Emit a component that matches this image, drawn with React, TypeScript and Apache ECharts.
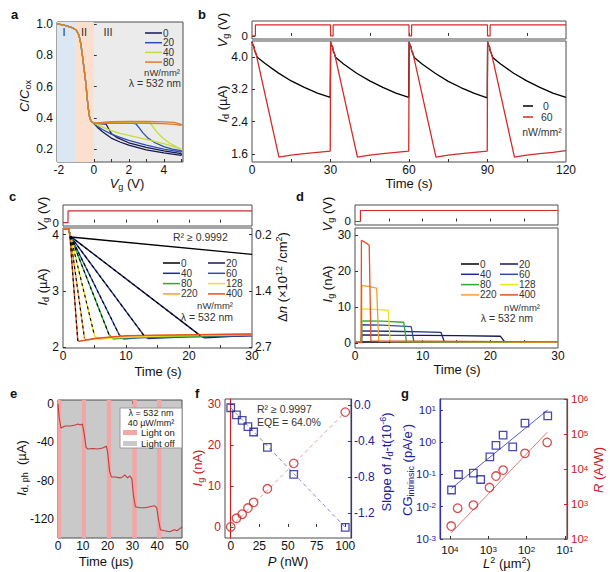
import { useEffect, useRef } from 'react';
import * as echarts from 'echarts';

const FONT = '"Liberation Sans", Arial, Helvetica, sans-serif';

/* ---------- a: C/Cox versus gate voltage ---------- */
const aIntensities = ['0', '20', '40', '80'];
const aColors = ['#16184f', '#2b4fae', '#c4dc3a', '#e07b2c'];
const aRegions = [[-2.1, -1.05], [-1.05, 0], [0, 5.1]];
const aRegionNames = ['I', 'II', 'III'];
const aDepletion = [
  [-2.1, 1.0], [-2, 1.0], [-1.6, 0.99], [-1.2, 0.975], [-1.0, 0.96], [-0.85, 0.93], [-0.75, 0.88],
  [-0.65, 0.8], [-0.55, 0.71], [-0.45, 0.62], [-0.38, 0.53], [-0.3, 0.45], [-0.23, 0.4],
  [-0.15, 0.38], [-0.05, 0.37], [0, 0.365],
];
const aSweep0 = [
  [0.3, 0.363], [0.7, 0.36], [0.85, 0.33], [1.0, 0.3], [1.3, 0.275], [2, 0.24], [3, 0.21], [4, 0.188], [5, 0.17],
  [5, 0.16], [4, 0.175], [3, 0.195], [2, 0.225], [1.5, 0.245], [1, 0.27], [0.5, 0.31], [0.2, 0.34], [0, 0.365],
];
const aSweep20 = [
  [1, 0.366], [2, 0.366], [2.4, 0.362], [2.6, 0.335], [2.8, 0.305], [3.1, 0.27], [3.5, 0.24], [4, 0.215], [4.5, 0.2], [5, 0.19],
  [5, 0.18], [4, 0.2], [3, 0.225], [2, 0.255], [1.5, 0.275], [1, 0.295], [0.5, 0.325], [0.2, 0.345], [0, 0.365],
];
const aSweep40 = [
  [1.5, 0.372], [3.2, 0.37], [3.4, 0.34], [3.6, 0.31], [3.9, 0.275], [4.3, 0.24], [4.7, 0.215], [5, 0.2],
  [5, 0.197], [4, 0.235], [3, 0.262], [2, 0.288], [1.5, 0.3], [1, 0.318], [0.5, 0.34], [0, 0.366],
];
const aSweep80 = [
  [1, 0.375], [2, 0.377], [3, 0.377], [4, 0.374], [4.6, 0.37], [5, 0.358],
  [5, 0.352], [4.6, 0.358], [4, 0.362], [3, 0.365], [2, 0.366], [1, 0.366], [0, 0.365],
];
const aSweeps = [aSweep0, aSweep20, aSweep40, aSweep80];

/* ---------- b: pulsed drain current ---------- */
const bIntensities = ['0', '60'];
const bColors = ['#000000', '#d42a2a'];
const bGate = [
  [0, 0], [1.3, 0], [1.3, 5], [30, 5], [30, 0], [31, 0], [31, 5], [60, 5], [60, 0], [61, 0], [61, 5],
  [90, 5], [90, 0], [91, 0], [91, 5], [120, 5],
];
const bDark = [
  [0, 4.38], [0.3, 4.31], [0.8, 4.25], [1.0, 4.16], [1.4, 4.1], [2, 4.0], [5, 3.84], [10, 3.61], [15, 3.41], [20, 3.25], [25, 3.11], [29.9, 3.0],
  [30.05, 4.38], [30.3, 4.31], [30.8, 4.25], [31, 4.16], [31.4, 4.1], [32, 3.99], [35, 3.83], [40, 3.6], [45, 3.41], [50, 3.25], [55, 3.11], [59.9, 3.0],
  [60.05, 4.38], [60.3, 4.31], [60.8, 4.25], [61, 4.16], [61.4, 4.1], [62, 3.99], [65, 3.83], [70, 3.6], [75, 3.4], [80, 3.24], [85, 3.1], [89.9, 2.99],
  [90.05, 4.38], [90.3, 4.31], [90.8, 4.25], [91, 4.16], [91.4, 4.1], [92, 3.99], [95, 3.83], [100, 3.6], [105, 3.41], [110, 3.25], [115, 3.11], [120, 3.0],
];
const bLight = [
  [0, 4.38], [0.3, 4.31], [0.8, 4.25], [1.0, 4.16], [1.5, 4.1], [10.3, 1.52], [12, 1.54], [15, 1.57], [20, 1.61], [25, 1.64], [29.9, 1.67],
  [30.05, 4.38], [30.3, 4.31], [30.8, 4.25], [31, 4.16], [31.5, 4.1], [40.3, 1.52], [42, 1.54], [45, 1.57], [50, 1.61], [55, 1.64], [59.9, 1.67],
  [60.05, 4.38], [60.3, 4.31], [60.8, 4.25], [61, 4.16], [61.5, 4.1], [70.3, 1.52], [72, 1.54], [75, 1.57], [80, 1.61], [85, 1.64], [89.9, 1.67],
  [90.05, 4.38], [90.3, 4.31], [90.8, 4.25], [91, 4.16], [91.5, 4.1], [100.3, 1.52], [102, 1.54], [105, 1.57], [110, 1.61], [115, 1.64], [120, 1.68],
];

/* ---------- c, d: drain and gate current under illumination ---------- */
const cdIntensities = ['0', '20', '40', '60', '80', '128', '220', '400'];
const cdColors = ['#000000', '#17195a', '#1e2d86', '#2a4fae', '#2fa83a', '#ece21e', '#f2a229', '#e4521e'];
const cdGate = [[0, 0], [0.8, 0], [0.8, 5], [30, 5]];
// each drain trace: dark level, turn-on, linear discharge (points 2..3), recovery
const cDrain = [
  [[0, 4.1], [0.9, 4.1], [1.2, 3.96], [30, 3.65]],
  [[0, 4.1], [0.9, 4.1], [1.2, 3.97], [21.8, 2.2], [22.5, 2.16], [24, 2.17], [27, 2.19], [30, 2.2]],
  [[0, 4.1], [0.9, 4.1], [1.2, 3.97], [12.8, 2.21], [13.5, 2.15], [16, 2.16], [20, 2.18], [25, 2.19], [30, 2.2]],
  [[0, 4.1], [0.9, 4.1], [1.2, 3.97], [8.9, 2.22], [9.6, 2.14], [12, 2.16], [18, 2.18], [30, 2.2]],
  [[0, 4.1], [0.9, 4.1], [1.2, 3.97], [7.3, 2.22], [8, 2.14], [10, 2.16], [16, 2.18], [30, 2.21]],
  [[0, 4.1], [0.9, 4.1], [1.2, 3.97], [5.0, 2.2], [5.6, 2.13], [8, 2.16], [14, 2.19], [30, 2.22]],
  [[0, 4.1], [0.9, 4.1], [1.15, 3.97], [3.4, 2.16], [3.8, 2.12], [6, 2.16], [12, 2.2], [30, 2.23]],
  [[0, 4.1], [0.9, 4.1], [1.1, 3.97], [2.35, 2.11], [2.6, 2.1], [5, 2.15], [10, 2.2], [30, 2.23]],
];
const cFitRSquared = 'R² ≥ 0.9992';
const cRightTicks = [4, 3, 2];
const cRightLabels = ['0.2', '1.4', '2.7'];
const dGateCurrent = [
  [[0, 0.25], [0.9, 0.25], [1.0, 0.35], [30, 0.3]],
  [[0, 0.2], [0.95, 0.2], [1.0, 2.3], [5, 2.2], [15, 2.1], [21.5, 1.9], [22.1, 0.4], [30, 0.3]],
  [[0, 0.2], [0.95, 0.2], [1.0, 3.4], [5, 3.3], [10, 3.15], [12.7, 3.0], [13.2, 0.4], [30, 0.3]],
  [[0, 0.2], [0.95, 0.2], [1.0, 5.1], [4, 5.0], [8.3, 4.6], [8.7, 0.4], [30, 0.3]],
  [[0, 0.2], [0.95, 0.2], [1.0, 6.2], [4, 6.1], [7.2, 5.8], [7.6, 0.4], [30, 0.3]],
  [[0, 0.2], [0.95, 0.2], [1.0, 9.5], [3, 9.4], [4.9, 9.1], [5.2, 0.4], [30, 0.3]],
  [[0, 0.2], [0.95, 0.2], [1.0, 16.0], [2, 15.8], [3.2, 15.3], [3.5, 0.5], [30, 0.35]],
  [[0, 0.2], [0.9, 0.2], [0.95, 28.6], [1.5, 28.0], [2.1, 27.2], [2.35, 0.6], [30, 0.35]],
];

/* ---------- e: photocurrent steps ---------- */
const eLightOn = [[0, 1.3], [9.6, 11.3], [19.7, 21.4], [30, 31.8], [39.9, 41.7]];
const ePhotocurrent = [
  [0, 0], [0.5, -15], [1.2, -25], [2, -24], [3, -23], [5, -23], [7, -22], [8, -21], [9, -22], [9.8, -21],
  [10.5, -30], [11.3, -45], [12, -47], [14, -46.5], [16, -47], [18, -46], [19.5, -44],
  [20, -50], [20.8, -70], [21.5, -76], [23, -76], [25, -77], [26, -76], [27, -74], [28, -77], [29, -75], [29.8, -78],
  [30.4, -95], [31.2, -107], [33, -108], [35, -108], [37, -107], [39, -106], [39.8, -108],
  [40.5, -120], [41.3, -131], [43, -132], [45, -133], [47, -131], [48, -132], [49, -130], [50, -128],
];
const eLegendLines = ['λ = 532 nm', '40 µW/mm²', 'Light on', 'Light off'];

/* ---------- f: gate current and discharge slope versus power ---------- */
const fPower = [0, 5, 10, 15, 20, 32, 55, 100];
const fGateCurrent = [0, 2.1, 3.1, 4.6, 6.0, 9.3, 15.5, 28.0];
const fSlope = [-0.03, -0.11, -0.17, -0.24, -0.3, -0.47, -0.77, -1.36];
const fGateFit = [[0, 0], [100, 28]];
const fSlopeFit = [[0, -0.03], [100, -1.36]];
const fNotes = ['R² ≥ 0.9997', 'EQE = 64.0%'];

/* ---------- g: gain and responsivity versus channel area ---------- */
const gAreaCG = [9100, 6000, 2450, 1580, 910, 630, 410, 230, 110, 28];
const gCG = [0.033, 0.1, 0.11, 0.07, 0.35, 0.8, 1.65, 0.72, 3.9, 6.6];
const gAreaR = [9300, 6300, 2450, 930, 630, 410, 110, 29];
const gR = [235, 760, 930, 2950, 6300, 9300, 28000, 57500];
const gCGFit = [[9100, 0.037], [28, 10]];
const gRFit = [[9300, 150], [29, 112000]];

const pairs = (xs: number[], ys: number[]) => xs.map((x, i) => [x, ys[i]]);

const RICH: any = {
  r: { fontFamily: FONT, fontSize: 13, lineHeight: 16 },
  i: { fontFamily: FONT, fontSize: 13, lineHeight: 16, fontStyle: 'italic' },
  sub: { fontFamily: FONT, fontSize: 9, lineHeight: 8, verticalAlign: 'bottom' },
  sup: { fontFamily: FONT, fontSize: 9, lineHeight: 8, verticalAlign: 'top' },
  s: { fontFamily: FONT, fontSize: 8, lineHeight: 6, verticalAlign: 'top' },
  n: { fontFamily: FONT, fontSize: 11.5, lineHeight: 10 },
};

const FRAME = '#4d4d4d';

function grid(left: number, top: number, width: number, height: number, bg?: string) {
  return {
    left, top, width, height, show: true, borderColor: FRAME, borderWidth: 1,
    backgroundColor: bg || 'transparent', containLabel: false, outerBoundsMode: 'none',
  };
}

function axis(gridIndex: number, o: any) {
  return {
    type: o.type || 'value',
    logBase: 10,
    gridIndex,
    min: o.min,
    max: o.max,
    inverse: !!o.inverse,
    position: o.position,
    splitLine: { show: false },
    axisLine: o.lineColor ? { show: true, lineStyle: { color: o.lineColor, width: 1.2 } } : { show: false },
    axisTick: {
      show: true, inside: true, length: 3,
      customValues: o.ticks,
      lineStyle: { color: o.lineColor || '#333', width: 1 },
    },
    axisLabel: o.labels
      ? {
          show: true, customValues: o.labels, formatter: o.fmt, margin: o.margin ?? 3,
          fontFamily: FONT, fontSize: o.fontSize || 12, lineHeight: 10, color: o.color || '#111', rich: RICH,
          showMinLabel: true, showMaxLabel: true, hideOverlap: false,
        }
      : { show: false },
  };
}

function line(xi: number, yi: number, data: any, color: string, width = 1.2, extra: any = {}) {
  return {
    type: 'line', xAxisIndex: xi, yAxisIndex: yi, data, symbol: 'none', showSymbol: false,
    lineStyle: { color, width }, itemStyle: { color }, silent: true, clip: true, z: 3, ...extra,
  };
}

function txt(x: number, y: number, text: string, o: any = {}) {
  return {
    type: 'text', x, y, rotation: o.rot || 0, z: 100, silent: true,
    style: {
      text, fontFamily: FONT, fontSize: o.size || 12, fontWeight: o.bold ? 'bold' : 'normal',
      fontStyle: o.italic ? 'italic' : 'normal', fill: o.color || '#111',
      align: o.align || 'center', verticalAlign: 'middle', rich: o.rich, lineHeight: o.lh,
    },
  };
}

function seg(x1: number, y1: number, x2: number, y2: number, color: string, width = 1.5) {
  return { type: 'line', z: 100, silent: true, shape: { x1, y1, x2, y2 }, style: { stroke: color, lineWidth: width } };
}

function box(x: number, y: number, width: number, height: number, fill: string, stroke?: string) {
  return { type: 'rect', z: 99, silent: true, shape: { x, y, width, height }, style: { fill, stroke: stroke || 'none', lineWidth: 1 } };
}

const vTitle = (x: number, y: number, text: string, color = '#111') =>
  txt(x, y, text, { rot: Math.PI / 2, rich: RICH, color, size: 13 });
const hTitle = (x: number, y: number, text: string, color = '#111') =>
  txt(x, y, text, { rich: RICH, color, size: 13 });

const logLabel = (v: number) => `{n|10}{s|${Math.round(Math.log10(v))}}`;

const small = { size: 10, color: '#333', lh: 9 };

function twoColumnLegend(x1: number, x2: number, y0: number, dy: number, len: number) {
  const out: any[] = [];
  cdIntensities.forEach((name, i) => {
    const col = i % 2;
    const row = Math.floor(i / 2);
    const lx = col === 0 ? x1 : x2;
    const y = y0 + row * dy;
    out.push(seg(lx, y, lx + len, y, cdColors[i], 1.5));
    out.push(txt(lx + len + 1, y, name, { ...small, align: 'left' }));
  });
  return out;
}

function buildOption() {
  const grids = [
    grid(57, 22, 126, 140, '#ebebeb'), // a
    grid(252, 21, 314, 18), // b gate
    grid(252, 41, 314, 121), // b drain
    grid(63, 205, 189, 21), // c gate
    grid(63, 228, 189, 120), // c drain
    grid(355, 205, 203, 20), // d gate
    grid(355, 228, 203, 120), // d gate current
    grid(58, 400, 124, 138, '#c9c9c9'), // e
    grid(225, 399, 126, 139), // f
    grid(440, 399, 127, 140), // g
  ];

  const xAxes = [
    axis(0, { min: -2.1, max: 5.1, ticks: [-2, -1, 0, 1, 2, 3, 4, 5], labels: [-2, 0, 2, 4], margin: 3 }),
    axis(1, { min: 0, max: 120, ticks: [15, 30, 45, 60, 75, 90, 105] }),
    axis(2, { min: 0, max: 120, ticks: [15, 30, 45, 60, 75, 90, 105], labels: [0, 30, 60, 90, 120], margin: 3 }),
    axis(3, { min: 0, max: 30, ticks: [5, 10, 15, 20, 25] }),
    axis(4, { min: 0, max: 30, ticks: [5, 10, 15, 20, 25], labels: [0, 10, 20, 30], margin: 3 }),
    axis(5, { min: 0, max: 30, ticks: [5, 10, 15, 20, 25] }),
    axis(6, { min: 0, max: 30, ticks: [5, 10, 15, 20, 25], labels: [0, 10, 20, 30], margin: 3 }),
    axis(7, { min: 0, max: 50, ticks: [10, 20, 30, 40], labels: [0, 10, 20, 30, 40, 50], margin: 3 }),
    axis(8, { min: -5, max: 105, ticks: [0, 25, 50, 75, 100], labels: [0, 25, 50, 75, 100], margin: 3 }),
    // large channel areas on the left
    axis(9, {
      type: 'log', min: 8.8, max: 18200, inverse: true, ticks: [10, 100, 1000, 10000],
      labels: [10, 100, 1000, 10000], fmt: logLabel, margin: 6,
    }),
  ];

  const yAxes = [
    axis(0, { min: 0.117, max: 1.013, ticks: [0.2, 0.4, 0.6, 0.8, 1.0], labels: [0.2, 0.4, 0.6, 0.8, 1.0], fmt: (v: number) => v.toFixed(1), margin: 4 }),
    axis(1, { min: -1.4, max: 6.8, ticks: [0, 5], labels: [0, 5], margin: 4, fontSize: 11.5 }),
    axis(2, { min: 1.4, max: 4.4, ticks: [1.6, 2.4, 3.2, 4.0], labels: [1.6, 2.4, 3.2, 4.0], fmt: (v: number) => v.toFixed(1), margin: 4 }),
    axis(3, { min: -1.4, max: 7.5, ticks: [0, 5], labels: [0, 5], margin: 4, fontSize: 11.5 }),
    axis(4, { min: 1.98, max: 4.12, ticks: [2, 3, 4], labels: [2, 3, 4], margin: 4 }),
    axis(4, {
      min: 1.98, max: 4.12, position: 'right', ticks: cRightTicks, labels: cRightTicks, margin: 3,
      fmt: (v: number) => cRightLabels[cRightTicks.indexOf(Math.round(v))] ?? '',
    }),
    axis(5, { min: -1.6, max: 7.5, ticks: [0, 5], labels: [0, 5], margin: 4, fontSize: 11.5 }),
    axis(6, { min: -1.36, max: 32, ticks: [0, 10, 20, 30], labels: [0, 10, 20, 30], margin: 4 }),
    axis(7, { min: -139.5, max: 4, ticks: [0, -40, -80, -120], labels: [0, -40, -80, -120], margin: 4 }),
    axis(8, { min: -2.7, max: 31.2, ticks: [0, 10, 20, 30], labels: [0, 10, 20, 30], margin: 4, color: '#c8201e', lineColor: '#c8201e' }),
    axis(8, {
      min: -1.478, max: 0.067, position: 'right', ticks: [0, -0.4, -0.8, -1.2], labels: [0, -0.4, -0.8, -1.2],
      fmt: (v: number) => v.toFixed(1), margin: 3, color: '#22229a', lineColor: '#3030b0',
    }),
    axis(9, {
      type: 'log', min: 0.001, max: 21.9, ticks: [0.001, 0.01, 0.1, 1, 10], labels: [0.001, 0.01, 0.1, 1, 10],
      fmt: logLabel, margin: 4, color: '#22229a', lineColor: '#3030b0',
    }),
    axis(9, {
      type: 'log', min: 100, max: 1000000, position: 'right', ticks: [100, 1000, 10000, 100000, 1000000],
      labels: [100, 1000, 10000, 100000, 1000000], fmt: logLabel, margin: 4, color: '#c8201e', lineColor: '#c8201e',
    }),
  ];

  const series: any[] = [];

  // a — shaded sweep regions, then the C–V loops (highest intensity on top)
  series.push({
    type: 'line', xAxisIndex: 0, yAxisIndex: 0, data: [], silent: true, z: 1,
    markArea: {
      silent: true,
      data: [
        [{ xAxis: aRegions[0][0], itemStyle: { color: '#dbe7f3' } }, { xAxis: aRegions[0][1] }],
        [{ xAxis: aRegions[1][0], itemStyle: { color: '#fbe0d0' } }, { xAxis: aRegions[1][1] }],
      ],
    },
  });
  aIntensities.forEach((name, i) => {
    series.push(line(0, 0, [...aDepletion, ...aSweeps[i]], aColors[i], 1.3, { name: 'a' + name }));
  });

  // b
  series.push(line(1, 1, bGate, bColors[1], 1.2));
  series.push(line(2, 2, bDark, bColors[0], 1.3));
  series.push(line(2, 2, bLight, bColors[1], 1.3));

  // c
  series.push(line(3, 3, cdGate, '#d42a2a', 1.2));
  cDrain.forEach((d, i) => series.push(line(4, 4, d, cdColors[i], 1.4)));
  cDrain.forEach((d, i) => {
    if (i > 0) series.push(line(4, 4, d.slice(2, 4), '#000', 1.1, { lineStyle: { color: '#000', width: 1.1, type: [3, 3] } }));
  });

  // d
  series.push(line(5, 6, cdGate, '#d42a2a', 1.2));
  dGateCurrent.forEach((d, i) => series.push(line(6, 7, d, cdColors[i], 1.3)));

  // e
  series.push({
    type: 'line', xAxisIndex: 7, yAxisIndex: 8, data: [], silent: true, z: 1,
    markArea: {
      silent: true,
      itemStyle: { color: '#f3a6a6' },
      data: eLightOn.map(([a, b]) => [{ xAxis: a }, { xAxis: b }]),
    },
  });
  series.push(line(7, 8, ePhotocurrent, '#c23b3b', 1.1));

  // f
  series.push(line(8, 9, fGateFit, '#e09a9a', 1, { lineStyle: { color: '#e09a9a', width: 1, type: [4, 3] } }));
  series.push(line(8, 10, fSlopeFit, '#8a8ac6', 1, { lineStyle: { color: '#8a8ac6', width: 1, type: [4, 3] } }));
  series.push({
    type: 'scatter', xAxisIndex: 8, yAxisIndex: 9, data: pairs(fPower, fGateCurrent), symbol: 'circle', symbolSize: 8.5,
    itemStyle: { color: 'rgba(0,0,0,0)', borderColor: '#cc2222', borderWidth: 1.3 }, silent: true, z: 5,
  });
  series.push({
    type: 'scatter', xAxisIndex: 8, yAxisIndex: 10, data: pairs(fPower, fSlope), symbol: 'rect', symbolSize: 7.5,
    itemStyle: { color: 'rgba(0,0,0,0)', borderColor: '#1c1c9c', borderWidth: 1.3 }, silent: true, z: 5,
  });

  // g
  series.push(line(9, 11, gCGFit, '#5a5ad0', 1));
  series.push(line(9, 12, gRFit, '#d87a7a', 1));
  series.push({
    type: 'scatter', xAxisIndex: 9, yAxisIndex: 11, data: pairs(gAreaCG, gCG), symbol: 'rect', symbolSize: 7.5,
    itemStyle: { color: 'rgba(0,0,0,0)', borderColor: '#1c1c9c', borderWidth: 1.3 }, silent: true, z: 5,
  });
  series.push({
    type: 'scatter', xAxisIndex: 9, yAxisIndex: 12, data: pairs(gAreaR, gR), symbol: 'circle', symbolSize: 8.5,
    itemStyle: { color: 'rgba(0,0,0,0)', borderColor: '#cc2222', borderWidth: 1.3 }, silent: true, z: 5,
  });

  const graphic: any[] = [
    // panel letters
    txt(11, 14, 'a', { bold: true, size: 13, align: 'left' }),
    txt(198, 14, 'b', { bold: true, size: 13, align: 'left' }),
    txt(9, 196, 'c', { bold: true, size: 13, align: 'left' }),
    txt(296, 196, 'd', { bold: true, size: 13, align: 'left' }),
    txt(10, 393, 'e', { bold: true, size: 13, align: 'left' }),
    txt(195, 393, 'f', { bold: true, size: 13, align: 'left' }),
    txt(401, 393, 'g', { bold: true, size: 13, align: 'left' }),

    // a
    txt(64, 32, aRegionNames[0], { size: 11, color: '#333', lh: 10 }),
    txt(84, 32, aRegionNames[1], { size: 11, color: '#333', lh: 10 }),
    txt(108, 32, aRegionNames[2], { size: 11, color: '#333', lh: 10 }),
    ...aIntensities.flatMap((name, i) => [
      seg(145, 33 + i * 9.7, 162, 33 + i * 9.7, aColors[i], 1.5),
      txt(163, 33 + i * 9.7, name, { ...small, align: 'left', lh: 8 }),
    ]),
    txt(180, 72, 'nW/mm²', { ...small, size: 9.5, align: 'right' }),
    txt(181, 83, 'λ = 532 nm', { ...small, size: 10.5, align: 'right' }),
    vTitle(24, 96, '{i|C}{r|/}{i|C}{sub|ox}'),
    hTitle(127, 183, '{i|V}{sub|g}{r| (V)}'),

    // b
    vTitle(222, 30, '{i|V}{sub|g}{r| (V)}'),
    vTitle(222, 104, '{i|I}{sub|d}{r| (µA)}'),
    hTitle(409, 183, '{r|Time (s)}'),
    seg(523, 106, 533, 106, bColors[0], 1.5),
    txt(543, 106, bIntensities[0], { ...small, size: 10.5, align: 'left' }),
    seg(523, 117, 533, 117, bColors[1], 1.5),
    txt(541, 117, bIntensities[1], { ...small, size: 10.5, align: 'left' }),
    txt(542, 132, 'nW/mm²', { ...small, size: 10.5 }),

    // c
    vTitle(42, 214, '{i|V}{sub|g}{r| (V)}'),
    vTitle(42, 287, '{i|I}{sub|d}{r| (µA)}'),
    vTitle(282, 277, '{r|Δ}{i|n}{r| (×10}{sup|12}{r| /cm}{sup|2}{r|)}'),
    hTitle(158, 371, '{r|Time (s)}'),
    txt(173, 237, cFitRSquared, { ...small, size: 10.5, align: 'left' }),
    ...twoColumnLegend(163, 208, 263, 10.3, 17),
    txt(233, 305, 'nW/mm²', { ...small, size: 9.5, align: 'right' }),
    txt(233, 317, 'λ = 532 nm', { ...small, size: 10.5, align: 'right' }),

    // d
    vTitle(327, 214, '{i|V}{sub|g}{r| (V)}'),
    vTitle(327, 284, '{i|I}{sub|g}{r| (nA)}'),
    hTitle(457, 369, '{r|Time (s)}'),
    ...twoColumnLegend(461, 500, 264, 10.3, 18),
    txt(540, 307, 'nW/mm²', { ...small, size: 9.5, align: 'right' }),
    txt(533, 318, 'λ = 532 nm', { ...small, size: 10.5, align: 'right' }),

    // e
    box(120, 408, 62, 40, '#ffffff', '#9a9a9a'),
    txt(151, 412.5, eLegendLines[0], { size: 9, color: '#222', lh: 8 }),
    txt(151, 422.5, eLegendLines[1], { size: 9, color: '#222', lh: 8 }),
    box(123, 430, 14, 5, '#f3a6a6'),
    txt(141, 432.5, eLegendLines[2], { size: 9.5, align: 'left', color: '#222', lh: 8 }),
    box(123, 441, 14, 5, '#c9c9c9'),
    txt(141, 443.5, eLegendLines[3], { size: 9.5, align: 'left', color: '#222', lh: 8 }),
    vTitle(21, 468, '{i|I}{sub|d, ph}{r|  (µA)}'),
    hTitle(106, 561, '{r|Time (µs)}'),

    // f
    txt(257, 409, fNotes[0], { ...small, size: 10.5, align: 'left' }),
    txt(257, 422, fNotes[1], { ...small, size: 10.5, align: 'left' }),
    vTitle(197, 468, '{i|I}{sub|g}{r| (nA)}', '#c8201e'),
    vTitle(386, 462, '{r|Slope of }{i|I}{sub|d}{r|-t(10}{sup|-6}{r|)}', '#22229a'),
    hTitle(288, 561, '{i|P}{r| (nW)}'),

    // g
    vTitle(407, 470, '{r|CG}{sub|intrinsic}{r| (pA/e}{sup|-}{r|)}', '#22229a'),
    vTitle(598, 470, '{i|R}{r| (A/W)}', '#c8201e'),
    hTitle(507, 563, '{i|L}{sup|2}{r| (µm}{sup|2}{r|)}'),
  ];

  return {
    animation: false,
    backgroundColor: '#ffffff',
    textStyle: { fontFamily: FONT },
    grid: grids,
    xAxis: xAxes,
    yAxis: yAxes,
    series,
    graphic,
  };
}

export default function App() {
  const ref = useRef<HTMLDivElement>(null);
  useEffect(() => {
    const el = ref.current;
    if (!el) return;
    const chart = echarts.init(el, undefined, { renderer: 'svg' });
    chart.setOption(buildOption() as any);
    return () => chart.dispose();
  }, []);
  return (
    <div
      ref={ref}
      style={{ position: 'fixed', left: 0, top: 0, width: 610, height: 572, background: '#fff' }}
    />
  );
}
